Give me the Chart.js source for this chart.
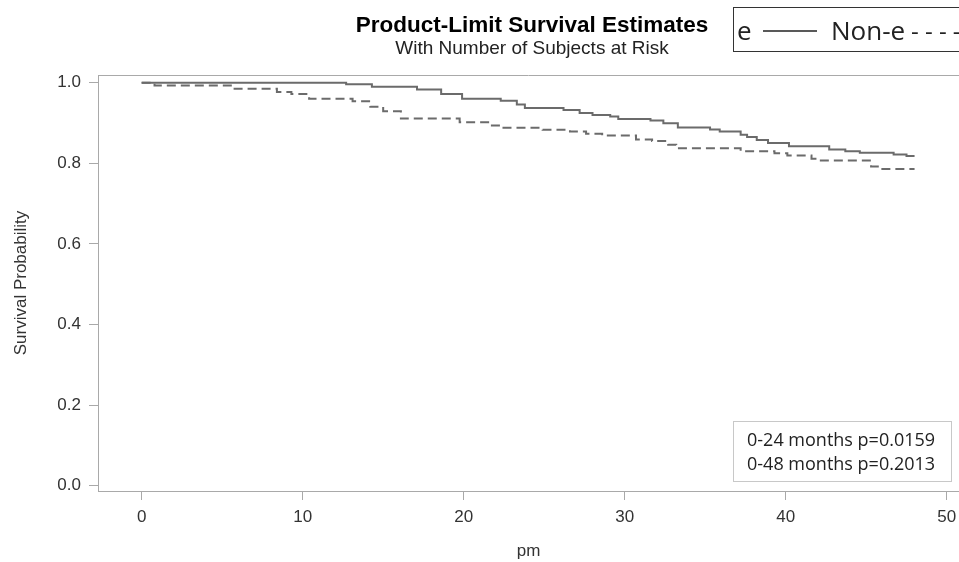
<!DOCTYPE html>
<html>
<head>
<meta charset="utf-8">
<script src="https://cdn.jsdelivr.net/npm/chart.js@4.4.1/dist/chart.umd.min.js"></script>
<style>
  html, body { margin: 0; padding: 0; background: #fff; }
  #wrap { width: 959px; height: 562px; position: relative; }
</style>
</head>
<body>
<div id="wrap"><canvas id="km"></canvas></div>
<script>
// Kaplan-Meier steps (time in months, survival after the drop)
const eTimes = [0, 12.7, 14.3, 17.1, 18.6, 19.9, 22.3, 23.3, 23.8, 26.2, 27.2, 28.0, 29.1, 29.6, 31.6, 32.4, 33.3, 35.3, 35.9, 37.2, 37.6, 38.2, 38.9, 40.2, 42.7, 43.7, 44.6, 46.7, 47.5, 48.0];
const eSurv = [1.0, 0.996, 0.990, 0.983, 0.972, 0.960, 0.955, 0.946, 0.937, 0.932, 0.925, 0.920, 0.916, 0.910, 0.906, 0.899, 0.889, 0.884, 0.879, 0.871, 0.865, 0.858, 0.850, 0.842, 0.834, 0.830, 0.826, 0.822, 0.818, 0.818];

const nonTimes = [0, 0.8, 5.7, 8.4, 9.3, 10.4, 13.1, 14.2, 15.0, 16.1, 19.75, 21.6, 22.4, 24.9, 26.6, 27.6, 28.6, 30.7, 31.7, 32.7, 33.2, 37.2, 39.3, 40.1, 41.6, 42.1, 45.3, 45.8, 48.0];
const nonSurv = [1.0, 0.993, 0.985, 0.977, 0.972, 0.960, 0.954, 0.940, 0.929, 0.911, 0.902, 0.894, 0.888, 0.883, 0.879, 0.873, 0.869, 0.859, 0.855, 0.846, 0.837, 0.830, 0.825, 0.819, 0.811, 0.807, 0.792, 0.786, 0.786];

const xTicks = [0, 10, 20, 30, 40, 50];
const yTicks = [0, 0.2, 0.4, 0.6, 0.8, 1.0];

const titleText = 'Product-Limit Survival Estimates';
const subtitleText = 'With Number of Subjects at Risk';
const legendLabels = ['e', 'Non-e'];
const pLines = ['0-24 months p=0.0159', '0-48 months p=0.2013'];

function toPoints(ts, ss) {
  return ts.map((t, i) => ({ x: t, y: ss[i] }));
}

Chart.defaults.font.family = 'Liberation Sans, Arial, sans-serif';
Chart.defaults.color = '#333';

const axisGrey = '#a9a9a9';
const curveGrey = '#6b6b6b';

// titles, legend box, p-value box and the top frame line
const decor = {
  id: 'decor',
  afterDraw(chart) {
    const ctx = chart.ctx;
    const a = chart.chartArea;
    ctx.save();

    ctx.strokeStyle = axisGrey;
    ctx.lineWidth = 1;
    ctx.beginPath();
    ctx.moveTo(a.left, a.top + 0.5);
    ctx.lineTo(a.right, a.top + 0.5);
    ctx.stroke();

    const cx = 532;
    ctx.fillStyle = '#000';
    ctx.textAlign = 'center';
    ctx.textBaseline = 'alphabetic';
    ctx.font = 'bold 22.5px Liberation Sans, Arial, sans-serif';
    ctx.fillText(titleText, cx, 31.5);
    ctx.fillStyle = '#222';
    ctx.font = '19px Liberation Sans, Arial, sans-serif';
    ctx.fillText(subtitleText, cx, 53.5);

    // legend box
    ctx.strokeStyle = '#333';
    ctx.strokeRect(733.5, 7.5, 300, 44);
    ctx.fillStyle = '#222';
    ctx.textAlign = 'left';
    ctx.font = '26px Open Sans, sans-serif';
    ctx.fillText(legendLabels[0], 737, 40);
    ctx.strokeStyle = '#222';
    ctx.lineWidth = 1.5;
    ctx.beginPath();
    ctx.moveTo(763, 31);
    ctx.lineTo(817, 31);
    ctx.stroke();
    ctx.fillText(legendLabels[1], 831, 40);
    ctx.font = '24px Open Sans, sans-serif';
    ctx.fillText('- - - -', 911, 40);

    // p-value box
    ctx.lineWidth = 1;
    ctx.strokeStyle = '#c8c8c8';
    ctx.strokeRect(733.5, 421.5, 218, 60);
    ctx.fillStyle = '#222';
    ctx.font = '18px Open Sans, sans-serif';
    ctx.fillText(pLines[0], 747, 446);
    ctx.fillText(pLines[1], 747, 469.5);

    ctx.restore();
  }
};

const ctx = document.getElementById('km');
new Chart(ctx, {
  type: 'line',
  data: {
    datasets: [{
      label: legendLabels[0],
      data: toPoints(eTimes, eSurv),
      borderColor: curveGrey,
      borderWidth: 2,
      pointRadius: 0,
      stepped: true,
      fill: false
    }, {
      label: legendLabels[1],
      data: toPoints(nonTimes, nonSurv),
      borderColor: curveGrey,
      borderWidth: 2,
      borderDash: [9, 5],
      pointRadius: 0,
      stepped: true,
      fill: false
    }]
  },
  options: {
    responsive: true,
    maintainAspectRatio: false,
    animation: false,
    layout: { padding: { top: 75, left: 0, right: 0, bottom: 0 } },
    plugins: {
      legend: { display: false },
      tooltip: { enabled: false }
    },
    scales: {
      x: {
        type: 'linear',
        min: -2.71,
        max: 50.76,
        afterBuildTicks: (s) => { s.ticks = xTicks.map(v => ({ value: v })); },
        afterFit: (s) => { s.height = 71; s.paddingRight = 0; s.paddingLeft = 0; },
        ticks: { font: { size: 17 }, color: '#333', padding: 7, maxRotation: 0 },
        grid: { drawOnChartArea: false, color: axisGrey, tickLength: 9 },
        border: { color: axisGrey },
        title: { display: true, text: 'pm', font: { size: 17 }, color: '#333', padding: { top: 0, bottom: 0 } }
      },
      y: {
        min: -0.013,
        max: 1.019,
        afterBuildTicks: (s) => { s.ticks = yTicks.map(v => ({ value: v })); },
        afterFit: (s) => { s.width = 98; },
        ticks: { font: { size: 17 }, color: '#333', padding: 8, callback: (v) => v.toFixed(1) },
        grid: { drawOnChartArea: false, color: axisGrey, tickLength: 9 },
        border: { color: axisGrey },
        title: { display: true, text: 'Survival Probability', font: { size: 17 }, color: '#333', padding: { top: 11, bottom: 0 } }
      }
    }
  },
  plugins: [decor]
});
</script>
</body>
</html>
